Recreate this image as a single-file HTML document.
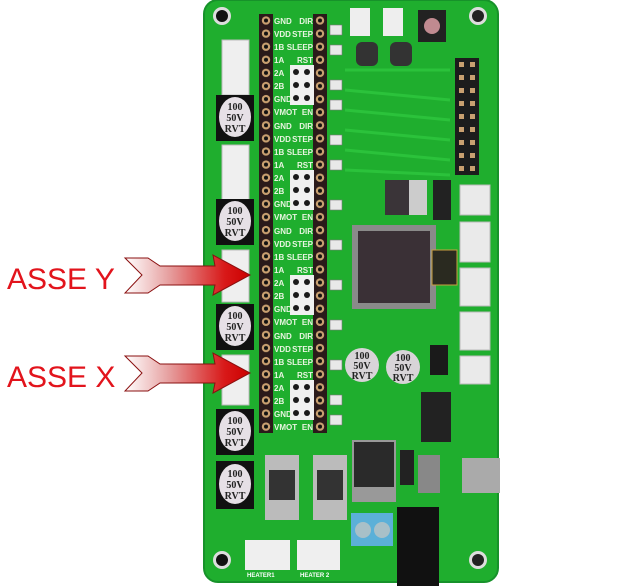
<!DOCTYPE html>
<html><head><meta charset="utf-8"><style>
body{margin:0;background:#fff;width:639px;height:586px;overflow:hidden;font-family:"Liberation Sans",sans-serif}
svg{display:block}
.l{font:bold 8px "Liberation Sans",sans-serif;fill:#e8f5e0}
.r{font:bold 8px "Liberation Sans",sans-serif;fill:#e8f5e0}
.cap{font:bold 10px "Liberation Serif",serif;fill:#222}
</style></head><body>
<svg width="639" height="586" viewBox="0 0 639 586" xmlns="http://www.w3.org/2000/svg">
<defs>
<linearGradient id="ag" x1="0" x2="1"><stop offset="0" stop-color="#fff"/><stop offset="0.35" stop-color="#e6a0a0"/><stop offset="0.8" stop-color="#d81818"/><stop offset="1" stop-color="#c00"/></linearGradient>
<pattern id="pins" x="259" y="14" width="14" height="13.1" patternUnits="userSpaceOnUse"><rect width="14" height="13.1" fill="#2a1a1a"/><circle cx="7" cy="6.5" r="4.2" fill="#c9a070"/><circle cx="7" cy="6.5" r="2" fill="#111"/></pattern>
<pattern id="pins2" x="313" y="14" width="14" height="13.1" patternUnits="userSpaceOnUse"><rect width="14" height="13.1" fill="#2a1a1a"/><circle cx="7" cy="6.5" r="4.2" fill="#c9a070"/><circle cx="7" cy="6.5" r="2" fill="#111"/></pattern>
<pattern id="hdr" x="455" y="58" width="24" height="13" patternUnits="userSpaceOnUse"><rect width="24" height="13" fill="#1c1c1c"/><rect x="4" y="4" width="5" height="5" fill="#c9a070"/><rect x="15" y="4" width="5" height="5" fill="#c9a070"/></pattern>
</defs>
<!-- board -->
<rect x="204" y="0" width="294" height="582" rx="14" fill="#1fae2e"/>
<rect x="204" y="0" width="294" height="582" rx="14" fill="none" stroke="#17922a" stroke-width="2"/>
<!-- mounting holes -->
<circle cx="222" cy="16" r="9" fill="#ddd"/><circle cx="222" cy="16" r="6" fill="#111"/>
<circle cx="478" cy="16" r="9" fill="#ddd"/><circle cx="478" cy="16" r="6" fill="#222"/>
<circle cx="222" cy="560" r="9" fill="#ddd"/><circle cx="222" cy="560" r="6" fill="#111"/>
<circle cx="478" cy="560" r="9" fill="#ddd"/><circle cx="478" cy="560" r="6" fill="#222"/>
<!-- traces -->
<g stroke="#2bc23b" stroke-width="3" fill="none">
<path d="M345 70 L450 70 M345 90 L450 100 M345 110 L450 120 M345 130 L450 140 M345 150 L450 160 M345 170 L450 175"/>
</g>
<!-- left white connectors -->
<g fill="#efefef" stroke="#bbb">
<rect x="222" y="40" width="27" height="55"/>
<rect x="222" y="145" width="27" height="55"/>
<rect x="222" y="250" width="27" height="52"/>
<rect x="222" y="355" width="27" height="50"/>
</g>
<!-- capacitors left -->
<g>
<rect x="216" y="95" width="38" height="46" fill="#111"/><ellipse cx="235" cy="117" rx="16" ry="20" fill="#e6e0e6"/>
<rect x="216" y="199" width="38" height="46" fill="#111"/><ellipse cx="235" cy="221" rx="16" ry="20" fill="#e6e0e6"/>
<rect x="216" y="304" width="38" height="46" fill="#111"/><ellipse cx="235" cy="326" rx="16" ry="20" fill="#e6e0e6"/>
<rect x="216" y="409" width="38" height="46" fill="#111"/><ellipse cx="235" cy="431" rx="16" ry="20" fill="#e6e0e6"/>
<rect x="216" y="461" width="38" height="48" fill="#111"/><ellipse cx="235" cy="484" rx="16" ry="20" fill="#e6e0e6"/>
</g>
<g class="cap" text-anchor="middle">
<text x="235" y="110">100</text><text x="235" y="121">50V</text><text x="235" y="132">RVT</text>
<text x="235" y="214">100</text><text x="235" y="225">50V</text><text x="235" y="236">RVT</text>
<text x="235" y="319">100</text><text x="235" y="330">50V</text><text x="235" y="341">RVT</text>
<text x="235" y="424">100</text><text x="235" y="435">50V</text><text x="235" y="446">RVT</text>
<text x="235" y="477">100</text><text x="235" y="488">50V</text><text x="235" y="499">RVT</text>
</g>
<!-- pin strips -->
<rect x="259" y="14" width="14" height="419" fill="url(#pins)"/>
<rect x="313" y="14" width="14" height="419" fill="url(#pins2)"/>
<!-- small pin blocks -->
<g fill="#f0f0f0"><rect x="290" y="65" width="24" height="40"/><rect x="290" y="170" width="24" height="40"/><rect x="290" y="275" width="24" height="40"/><rect x="290" y="380" width="24" height="40"/></g>
<g fill="#1a1a1a"><circle cx="296" cy="72" r="3"/><circle cx="307" cy="72" r="3"/><circle cx="296" cy="85" r="3"/><circle cx="307" cy="85" r="3"/><circle cx="296" cy="98" r="3"/><circle cx="307" cy="98" r="3"/>
<circle cx="296" cy="177" r="3"/><circle cx="307" cy="177" r="3"/><circle cx="296" cy="190" r="3"/><circle cx="307" cy="190" r="3"/><circle cx="296" cy="203" r="3"/><circle cx="307" cy="203" r="3"/>
<circle cx="296" cy="282" r="3"/><circle cx="307" cy="282" r="3"/><circle cx="296" cy="295" r="3"/><circle cx="307" cy="295" r="3"/><circle cx="296" cy="308" r="3"/><circle cx="307" cy="308" r="3"/>
<circle cx="296" cy="387" r="3"/><circle cx="307" cy="387" r="3"/><circle cx="296" cy="400" r="3"/><circle cx="307" cy="400" r="3"/><circle cx="296" cy="413" r="3"/><circle cx="307" cy="413" r="3"/></g>
<!-- labels -->
<g class="l">
<text x="274" y="24">GND</text><text x="274" y="37">VDD</text><text x="274" y="50">1B</text><text x="274" y="63">1A</text><text x="274" y="76">2A</text><text x="274" y="89">2B</text><text x="274" y="102">GND</text><text x="274" y="115">VMOT</text>
<text x="274" y="129">GND</text><text x="274" y="142">VDD</text><text x="274" y="155">1B</text><text x="274" y="168">1A</text><text x="274" y="181">2A</text><text x="274" y="194">2B</text><text x="274" y="207">GND</text><text x="274" y="220">VMOT</text>
<text x="274" y="234">GND</text><text x="274" y="247">VDD</text><text x="274" y="260">1B</text><text x="274" y="273">1A</text><text x="274" y="286">2A</text><text x="274" y="299">2B</text><text x="274" y="312">GND</text><text x="274" y="325">VMOT</text>
<text x="274" y="339">GND</text><text x="274" y="352">VDD</text><text x="274" y="365">1B</text><text x="274" y="378">1A</text><text x="274" y="391">2A</text><text x="274" y="404">2B</text><text x="274" y="417">GND</text><text x="274" y="430">VMOT</text>
</g>
<g class="r" text-anchor="end">
<text x="313" y="24">DIR</text><text x="313" y="37">STEP</text><text x="313" y="50">SLEEP</text><text x="313" y="63">RST</text><text x="313" y="115">EN</text>
<text x="313" y="129">DIR</text><text x="313" y="142">STEP</text><text x="313" y="155">SLEEP</text><text x="313" y="168">RST</text><text x="313" y="220">EN</text>
<text x="313" y="234">DIR</text><text x="313" y="247">STEP</text><text x="313" y="260">SLEEP</text><text x="313" y="273">RST</text><text x="313" y="325">EN</text>
<text x="313" y="339">DIR</text><text x="313" y="352">STEP</text><text x="313" y="365">SLEEP</text><text x="313" y="378">RST</text><text x="313" y="430">EN</text>
</g>
<!-- SMD column -->
<g fill="#e8e8e8" stroke="#777" stroke-width="0.6">
<rect x="330" y="25" width="12" height="10"/><rect x="330" y="45" width="12" height="10"/><rect x="330" y="80" width="12" height="10"/><rect x="330" y="100" width="12" height="10"/><rect x="330" y="135" width="12" height="10"/><rect x="330" y="160" width="12" height="10"/><rect x="330" y="200" width="12" height="10"/><rect x="330" y="240" width="12" height="10"/><rect x="330" y="280" width="12" height="10"/><rect x="330" y="320" width="12" height="10"/><rect x="330" y="360" width="12" height="10"/><rect x="330" y="395" width="12" height="10"/><rect x="330" y="415" width="12" height="10"/>
</g>
<!-- top thermistors + button -->
<rect x="350" y="8" width="20" height="28" fill="#eee"/><rect x="383" y="8" width="20" height="28" fill="#eee"/>
<rect x="356" y="42" width="22" height="24" rx="6" fill="#333"/><rect x="390" y="42" width="22" height="24" rx="6" fill="#333"/>
<rect x="418" y="10" width="28" height="32" fill="#222"/><circle cx="432" cy="26" r="8" fill="#c08a90"/>
<!-- top right header -->
<rect x="455" y="58" width="24" height="117" fill="url(#hdr)"/>
<!-- chip -->
<rect x="352" y="225" width="84" height="84" fill="#8a8a8a"/>
<rect x="358" y="231" width="72" height="72" fill="#3a3036"/>
<rect x="385" y="180" width="42" height="35" fill="#ccc"/><rect x="385" y="180" width="24" height="35" fill="#3a3438"/>
<rect x="433" y="180" width="18" height="40" fill="#222"/>
<rect x="432" y="250" width="25" height="35" fill="#2a2a20" stroke="#c9a040"/>
<!-- right connectors -->
<g fill="#eaeaea" stroke="#bbb"><rect x="460" y="185" width="30" height="30"/><rect x="460" y="222" width="30" height="40"/><rect x="460" y="268" width="30" height="38"/><rect x="460" y="312" width="30" height="38"/><rect x="460" y="356" width="30" height="28"/></g>
<!-- caps middle -->
<circle cx="362" cy="365" r="17" fill="#d8d4d8"/><circle cx="403" cy="367" r="17" fill="#d8d4d8"/>
<g class="cap" text-anchor="middle"><text x="362" y="359">100</text><text x="362" y="369">50V</text><text x="362" y="379">RVT</text><text x="403" y="361">100</text><text x="403" y="371">50V</text><text x="403" y="381">RVT</text></g>
<rect x="430" y="345" width="18" height="30" fill="#1a1a1a"/>
<rect x="421" y="392" width="30" height="50" fill="#222"/>
<!-- bottom components -->
<rect x="265" y="455" width="34" height="65" fill="#bbb"/><rect x="269" y="470" width="26" height="30" fill="#333"/>
<rect x="313" y="455" width="34" height="65" fill="#bbb"/><rect x="317" y="470" width="26" height="30" fill="#333"/>
<rect x="352" y="440" width="44" height="62" fill="#999"/><rect x="354" y="442" width="40" height="45" fill="#2a2a2a"/>
<rect x="400" y="450" width="14" height="35" fill="#222"/>
<rect x="418" y="455" width="22" height="38" fill="#888"/>
<rect x="462" y="458" width="38" height="35" fill="#aaa"/>
<rect x="351" y="513" width="42" height="33" fill="#5bb0d8"/><circle cx="363" cy="530" r="8" fill="#a8c0c8"/><circle cx="382" cy="530" r="8" fill="#a8c0c8"/>
<rect x="397" y="507" width="42" height="79" fill="#111"/>
<rect x="245" y="540" width="45" height="30" fill="#efefef"/><rect x="297" y="540" width="43" height="30" fill="#efefef"/>
<text x="247" y="577" style="font:bold 6px 'Liberation Sans';fill:#fff">HEATER1</text>
<text x="300" y="577" style="font:bold 6px 'Liberation Sans';fill:#fff">HEATER 2</text>
<!-- arrows -->
<path d="M125 258 L148 258 L160 266 L215 266 L213 255 L250 275 L213 295 L215 285 L160 285 L148 293 L125 293 L142 275 Z" fill="url(#ag)" stroke="#8a1010" stroke-width="1"/>
<path d="M125 356 L148 356 L160 364 L215 364 L213 353 L250 373 L213 393 L215 383 L160 383 L148 391 L125 391 L142 373 Z" fill="url(#ag)" stroke="#8a1010" stroke-width="1"/>
<text x="7" y="289" style="font:30px 'Liberation Sans',sans-serif;fill:#e2141c">ASSE Y</text>
<text x="7" y="387" style="font:30px 'Liberation Sans',sans-serif;fill:#e2141c">ASSE X</text>
</svg>
</body></html>
